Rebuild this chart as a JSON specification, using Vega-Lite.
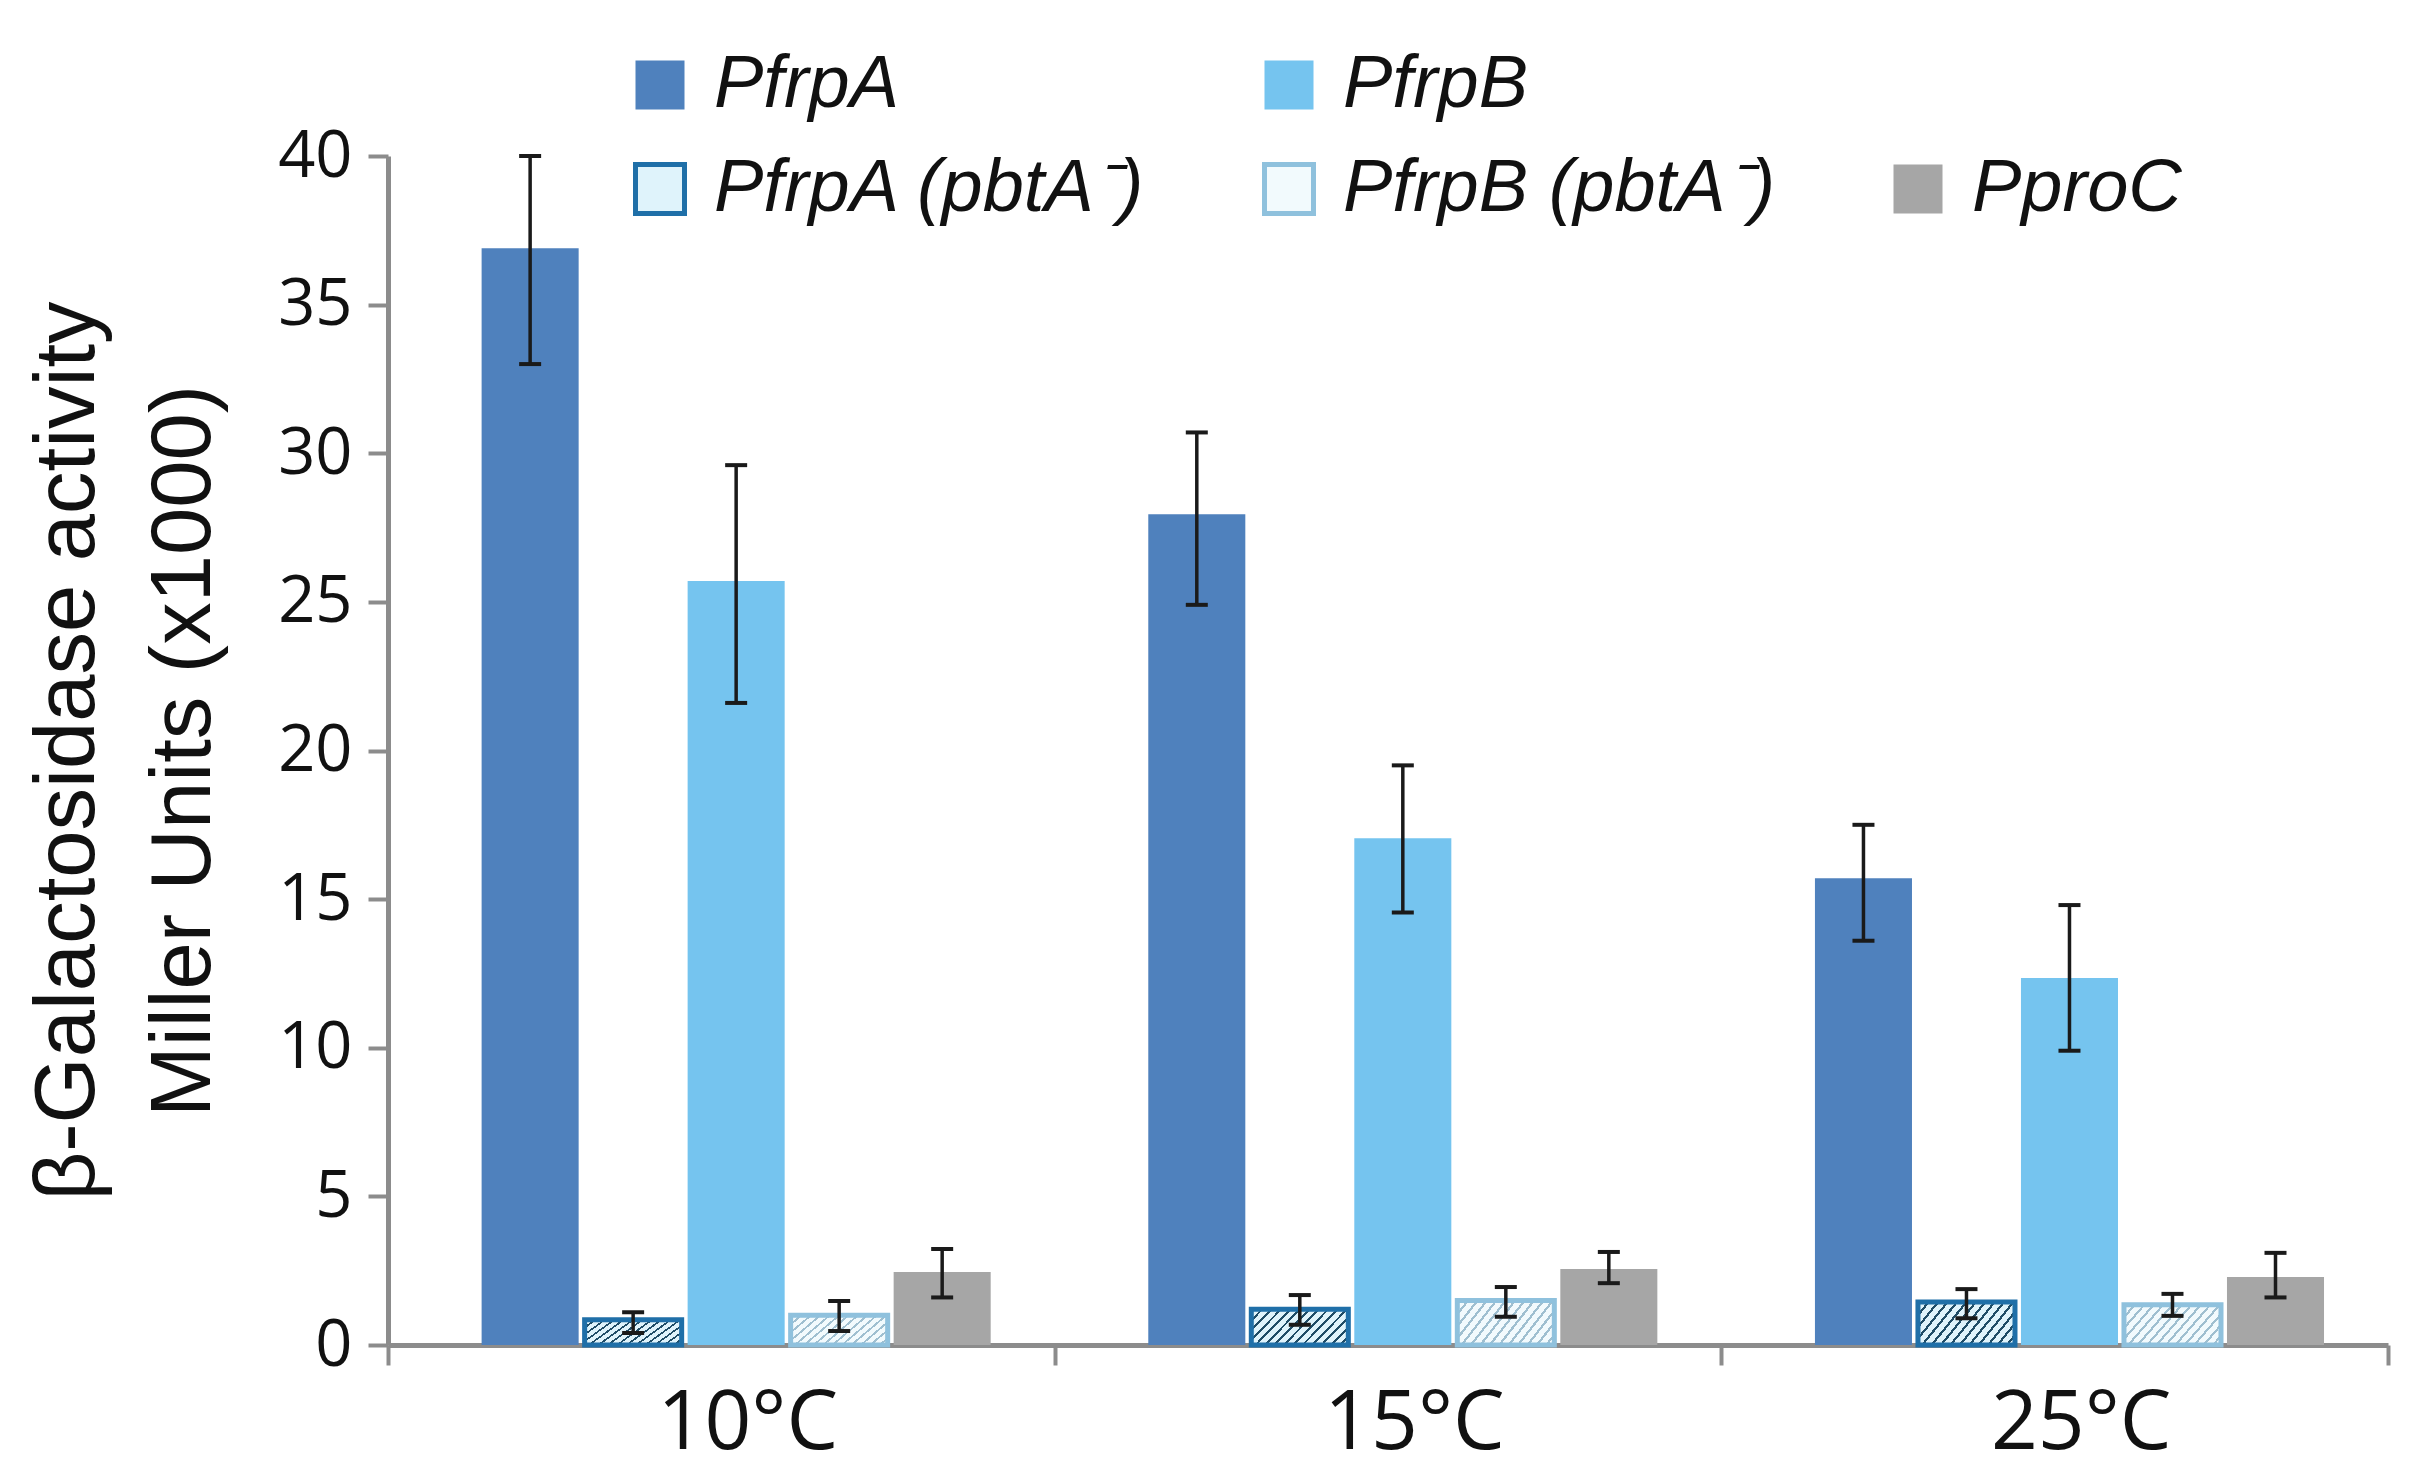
{
  "$schema": "https://vega.github.io/schema/vega-lite/v6.json",
  "width": 2000,
  "height": 1189,
  "autosize": {"type": "none"},
  "padding": {"left": 388, "top": 156, "right": 47, "bottom": 135},
  "background": "white",
  "config": {"view": {"stroke": null}, "axis": {"grid": false}},
  "data": {
    "values": [
      {"temp": "10°C", "series": "PfrpA", "value": 36.9, "lo": 33.0, "hi": 40.0},
      {"temp": "10°C", "series": "PfrpA (pbtA⁻)", "value": 0.85, "lo": 0.4, "hi": 1.1},
      {"temp": "10°C", "series": "PfrpB", "value": 25.7, "lo": 21.6, "hi": 29.6},
      {"temp": "10°C", "series": "PfrpB (pbtA⁻)", "value": 1.0, "lo": 0.47, "hi": 1.48},
      {"temp": "10°C", "series": "PproC", "value": 2.46, "lo": 1.6, "hi": 3.23},
      {"temp": "15°C", "series": "PfrpA", "value": 27.95, "lo": 24.9, "hi": 30.7},
      {"temp": "15°C", "series": "PfrpA (pbtA⁻)", "value": 1.2, "lo": 0.68, "hi": 1.68},
      {"temp": "15°C", "series": "PfrpB", "value": 17.05, "lo": 14.55, "hi": 19.5},
      {"temp": "15°C", "series": "PfrpB (pbtA⁻)", "value": 1.5, "lo": 0.95, "hi": 1.95},
      {"temp": "15°C", "series": "PproC", "value": 2.56, "lo": 2.08, "hi": 3.13},
      {"temp": "25°C", "series": "PfrpA", "value": 15.7, "lo": 13.6, "hi": 17.5},
      {"temp": "25°C", "series": "PfrpA (pbtA⁻)", "value": 1.45, "lo": 0.9, "hi": 1.88},
      {"temp": "25°C", "series": "PfrpB", "value": 12.35, "lo": 9.9, "hi": 14.8},
      {"temp": "25°C", "series": "PfrpB (pbtA⁻)", "value": 1.35, "lo": 0.98, "hi": 1.72},
      {"temp": "25°C", "series": "PproC", "value": 2.29, "lo": 1.6, "hi": 3.1}
    ]
  },
  "encoding": {
    "x": {
      "field": "temp", "type": "nominal", "sort": ["10°C", "15°C", "25°C"],
      "scale": {"paddingInner": 0, "paddingOuter": 0},
      "axis": {
        "title": null, "labelAngle": 0, "tickBand": "extent", "labelOffset": 26, "labelLimit": 500,
        "domainColor": "#8c8c8c", "domainWidth": 5,
        "tickColor": "#8c8c8c", "tickWidth": 4, "tickSize": 20,
        "labelFont": "Open Sans", "labelFontSize": 82, "labelColor": "#111111", "labelPadding": 18
      }
    },
    "xOffset": {
      "field": "series", "type": "nominal",
      "sort": ["PfrpA", "PfrpA (pbtA⁻)", "PfrpB", "PfrpB (pbtA⁻)", "PproC"],
      "scale": {"paddingInner": 0.058, "paddingOuter": 0.765, "align": 0.594}
    }
  },
  "layer": [
    {
      "mark": {"type": "bar", "opacity": 1},
      "encoding": {
        "y": {
          "field": "value", "type": "quantitative",
          "scale": {"domain": [0, 40], "nice": false, "zero": true},
          "axis": {
            "title": ["β-Galactosidase activity", "Miller Units (x1000)"],
            "values": [0, 5, 10, 15, 20, 25, 30, 35, 40],
            "domainColor": "#8c8c8c", "domainWidth": 5,
            "tickColor": "#8c8c8c", "tickWidth": 4, "tickSize": 20,
            "labelFont": "Open Sans", "labelFontSize": 65, "labelColor": "#111111", "labelPadding": 16,
            "titleFont": "Liberation Sans", "titleFontSize": 85, "titleFontWeight": "normal",
            "titleColor": "#111111", "titlePadding": 50, "titleLineHeight": 116
          }
        },
        "color": {
          "field": "series", "type": "nominal",
          "scale": {
            "domain": ["PfrpA", "PfrpA (pbtA⁻)", "PfrpB", "PfrpB (pbtA⁻)", " ", "PproC"],
            "range": ["#4f81bd", "#dff3fb", "#75c4ef", "#f2fafd", "transparent", "#a6a6a6"]
          },
          "legend": {
            "orient": "none", "legendX": 235, "legendY": -108, "title": null,
            "columns": 3, "gridAlign": "all", "columnPadding": 105, "rowPadding": 30,
            "symbolType": "square", "symbolSize": 2401, "symbolStrokeWidth": 5, "symbolOpacity": 1,
            "labelFont": "Liberation Sans", "labelFontStyle": "italic", "labelFontSize": 74,
            "labelColor": "#111111", "labelLimit": 1000, "labelOffset": 17,
            "encode": {
              "symbols": {
                "update": {
                  "stroke": {"signal": "datum.value === 'PfrpA (pbtA⁻)' ? '#1f6fa8' : datum.value === 'PfrpB (pbtA⁻)' ? '#8fc1dd' : 'transparent'"},
                  "strokeWidth": {"value": 5}
                }
              }
            }
          }
        }
      }
    },
    {
      "transform": [{"filter": "datum.series === 'PfrpA (pbtA⁻)'"}],
      "mark": {
        "type": "bar", "opacity": 1, "stroke": "#1f6fa8", "strokeWidth": 5,
        "fill": {"gradient": "linear", "x1": 0, "y1": 0, "x2": 1.204, "y2": 0.433, "stops": [
          {"offset": 0, "color": "#1f4c66"}, {"offset": 0.0214, "color": "#1f4c66"}, {"offset": 0.0214, "color": "#dff3fb"}, {"offset": 0.0714, "color": "#dff3fb"},
          {"offset": 0.0714, "color": "#1f4c66"}, {"offset": 0.0929, "color": "#1f4c66"}, {"offset": 0.0929, "color": "#dff3fb"}, {"offset": 0.1429, "color": "#dff3fb"},
          {"offset": 0.1429, "color": "#1f4c66"}, {"offset": 0.1643, "color": "#1f4c66"}, {"offset": 0.1643, "color": "#dff3fb"}, {"offset": 0.2143, "color": "#dff3fb"},
          {"offset": 0.2143, "color": "#1f4c66"}, {"offset": 0.2357, "color": "#1f4c66"}, {"offset": 0.2357, "color": "#dff3fb"}, {"offset": 0.2857, "color": "#dff3fb"},
          {"offset": 0.2857, "color": "#1f4c66"}, {"offset": 0.3071, "color": "#1f4c66"}, {"offset": 0.3071, "color": "#dff3fb"}, {"offset": 0.3571, "color": "#dff3fb"},
          {"offset": 0.3571, "color": "#1f4c66"}, {"offset": 0.3786, "color": "#1f4c66"}, {"offset": 0.3786, "color": "#dff3fb"}, {"offset": 0.4286, "color": "#dff3fb"},
          {"offset": 0.4286, "color": "#1f4c66"}, {"offset": 0.45, "color": "#1f4c66"}, {"offset": 0.45, "color": "#dff3fb"}, {"offset": 0.5, "color": "#dff3fb"},
          {"offset": 0.5, "color": "#1f4c66"}, {"offset": 0.5214, "color": "#1f4c66"}, {"offset": 0.5214, "color": "#dff3fb"}, {"offset": 0.5714, "color": "#dff3fb"},
          {"offset": 0.5714, "color": "#1f4c66"}, {"offset": 0.5929, "color": "#1f4c66"}, {"offset": 0.5929, "color": "#dff3fb"}, {"offset": 0.6429, "color": "#dff3fb"},
          {"offset": 0.6429, "color": "#1f4c66"}, {"offset": 0.6643, "color": "#1f4c66"}, {"offset": 0.6643, "color": "#dff3fb"}, {"offset": 0.7143, "color": "#dff3fb"},
          {"offset": 0.7143, "color": "#1f4c66"}, {"offset": 0.7357, "color": "#1f4c66"}, {"offset": 0.7357, "color": "#dff3fb"}, {"offset": 0.7857, "color": "#dff3fb"},
          {"offset": 0.7857, "color": "#1f4c66"}, {"offset": 0.8071, "color": "#1f4c66"}, {"offset": 0.8071, "color": "#dff3fb"}, {"offset": 0.8571, "color": "#dff3fb"},
          {"offset": 0.8571, "color": "#1f4c66"}, {"offset": 0.8786, "color": "#1f4c66"}, {"offset": 0.8786, "color": "#dff3fb"}, {"offset": 0.9286, "color": "#dff3fb"},
          {"offset": 0.9286, "color": "#1f4c66"}, {"offset": 0.95, "color": "#1f4c66"}, {"offset": 0.95, "color": "#dff3fb"}, {"offset": 1, "color": "#dff3fb"}
        ]}
      },
      "encoding": {"y": {"field": "value", "type": "quantitative"}}
    },
    {
      "transform": [{"filter": "datum.series === 'PfrpB (pbtA⁻)'"}],
      "mark": {
        "type": "bar", "opacity": 1, "stroke": "#8fc1dd", "strokeWidth": 5,
        "fill": {"gradient": "linear", "x1": 0, "y1": 0, "x2": 1.204, "y2": 0.433, "stops": [
          {"offset": 0, "color": "#9fbfd0"}, {"offset": 0.0214, "color": "#9fbfd0"}, {"offset": 0.0214, "color": "#f2fafd"}, {"offset": 0.0714, "color": "#f2fafd"},
          {"offset": 0.0714, "color": "#9fbfd0"}, {"offset": 0.0929, "color": "#9fbfd0"}, {"offset": 0.0929, "color": "#f2fafd"}, {"offset": 0.1429, "color": "#f2fafd"},
          {"offset": 0.1429, "color": "#9fbfd0"}, {"offset": 0.1643, "color": "#9fbfd0"}, {"offset": 0.1643, "color": "#f2fafd"}, {"offset": 0.2143, "color": "#f2fafd"},
          {"offset": 0.2143, "color": "#9fbfd0"}, {"offset": 0.2357, "color": "#9fbfd0"}, {"offset": 0.2357, "color": "#f2fafd"}, {"offset": 0.2857, "color": "#f2fafd"},
          {"offset": 0.2857, "color": "#9fbfd0"}, {"offset": 0.3071, "color": "#9fbfd0"}, {"offset": 0.3071, "color": "#f2fafd"}, {"offset": 0.3571, "color": "#f2fafd"},
          {"offset": 0.3571, "color": "#9fbfd0"}, {"offset": 0.3786, "color": "#9fbfd0"}, {"offset": 0.3786, "color": "#f2fafd"}, {"offset": 0.4286, "color": "#f2fafd"},
          {"offset": 0.4286, "color": "#9fbfd0"}, {"offset": 0.45, "color": "#9fbfd0"}, {"offset": 0.45, "color": "#f2fafd"}, {"offset": 0.5, "color": "#f2fafd"},
          {"offset": 0.5, "color": "#9fbfd0"}, {"offset": 0.5214, "color": "#9fbfd0"}, {"offset": 0.5214, "color": "#f2fafd"}, {"offset": 0.5714, "color": "#f2fafd"},
          {"offset": 0.5714, "color": "#9fbfd0"}, {"offset": 0.5929, "color": "#9fbfd0"}, {"offset": 0.5929, "color": "#f2fafd"}, {"offset": 0.6429, "color": "#f2fafd"},
          {"offset": 0.6429, "color": "#9fbfd0"}, {"offset": 0.6643, "color": "#9fbfd0"}, {"offset": 0.6643, "color": "#f2fafd"}, {"offset": 0.7143, "color": "#f2fafd"},
          {"offset": 0.7143, "color": "#9fbfd0"}, {"offset": 0.7357, "color": "#9fbfd0"}, {"offset": 0.7357, "color": "#f2fafd"}, {"offset": 0.7857, "color": "#f2fafd"},
          {"offset": 0.7857, "color": "#9fbfd0"}, {"offset": 0.8071, "color": "#9fbfd0"}, {"offset": 0.8071, "color": "#f2fafd"}, {"offset": 0.8571, "color": "#f2fafd"},
          {"offset": 0.8571, "color": "#9fbfd0"}, {"offset": 0.8786, "color": "#9fbfd0"}, {"offset": 0.8786, "color": "#f2fafd"}, {"offset": 0.9286, "color": "#f2fafd"},
          {"offset": 0.9286, "color": "#9fbfd0"}, {"offset": 0.95, "color": "#9fbfd0"}, {"offset": 0.95, "color": "#f2fafd"}, {"offset": 1, "color": "#f2fafd"}
        ]}
      },
      "encoding": {"y": {"field": "value", "type": "quantitative"}}
    },
    {
      "mark": {"type": "rule", "color": "#1a1a1a", "strokeWidth": 3.5},
      "encoding": {
        "y": {"field": "lo", "type": "quantitative"},
        "y2": {"field": "hi"}
      }
    },
    {
      "mark": {"type": "tick", "orient": "horizontal", "color": "#1a1a1a", "size": 22, "thickness": 4, "opacity": 1},
      "encoding": {"y": {"field": "lo", "type": "quantitative"}}
    },
    {
      "mark": {"type": "tick", "orient": "horizontal", "color": "#1a1a1a", "size": 22, "thickness": 4, "opacity": 1},
      "encoding": {"y": {"field": "hi", "type": "quantitative"}}
    }
  ]
}
